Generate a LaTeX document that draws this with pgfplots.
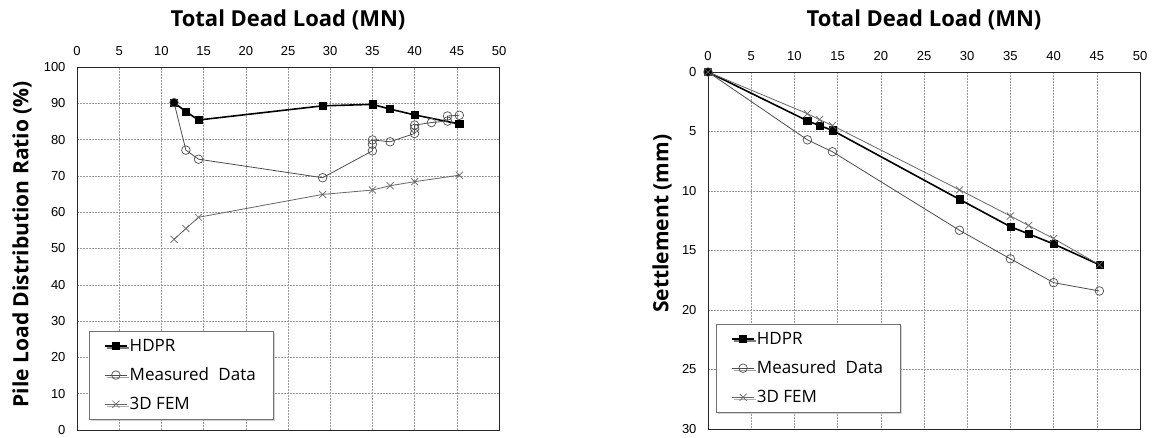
\documentclass[border=0pt]{standalone}
\usepackage{fontspec}
\setmainfont{Liberation Sans}
\newfontfamily\titlefont{Open Sans}
\usepackage{pgfplots}
\pgfplotsset{compat=1.18}
\usetikzlibrary{shadows}

\pgfplotsset{
  loadchart/.style={
    scale only axis,
    xmin=0, xmax=50, xtick={0,5,...,50},
    xticklabel pos=top,
    major tick length=0pt,
    grid=major,
    major grid style={black!40, dash pattern=on 2pt off 1pt, line width=0.6pt},
    axis line style={black!85, line width=0.9pt},
    tick label style={font=\fontsize{13}{15}\selectfont},
    /pgf/number format/assume math mode=true,
    xticklabel style={yshift=8pt},
    yticklabel style={xshift=-8pt},
    title style={font=\titlefont\bfseries\fontsize{22}{26}\selectfont, at={(0.5,1)}, anchor=center},
    ylabel style={font=\titlefont\bfseries\fontsize{21}{25}\selectfont},
    legend cell align=left,
    legend style={draw=black!55, line width=0.6pt, fill=white,
      font=\titlefont\fontsize{17}{20}\selectfont,
      drop shadow={shadow xshift=2pt, shadow yshift=-2pt, fill=black!35},
      row sep=11pt, inner xsep=15pt, inner ysep=6pt, anchor=north west},
    legend image code/.code={
      \draw[mark repeat=2, mark phase=2, #1] plot coordinates {(0pt,0pt) (11pt,0pt) (22pt,0pt)};
    },
  },
  hdpr/.style={black, line width=1.6pt, mark=square*, mark size=3.6pt, mark options={solid, line width=0.6pt}},
  meas/.style={black!70, line width=0.8pt, mark=o, mark size=4.3pt, mark options={solid, line width=0.7pt}},
  fem/.style={black!60, line width=0.8pt, mark=x, mark size=5pt, mark options={solid, line width=0.7pt}},
}

\begin{document}
\begin{tikzpicture}
\path[use as bounding box] (0pt,0pt) rectangle (1155pt,437pt);

% left: load distribution ratio
\begin{axis}[
  loadchart,
  at={(77pt,7pt)}, anchor=south west,
  width=422pt, height=363pt,
  ymin=0, ymax=100, ytick={0,10,...,100},
  title={Total Dead Load (MN)},
  title style={yshift=41pt},
  ylabel={Pile Load Distribution Ratio (\%)},
  ylabel style={at={(rel axis cs:-0.130,0.512)}, anchor=center},
  legend style={at={(0.028,0.273)}},
]
\addplot[hdpr] coordinates {
  (11.5,90.2) (12.9,87.7) (14.4,85.4) (29.1,89.3) (35.0,89.7)
  (37.1,88.4) (40.0,86.8) (45.3,84.3)
};
\addlegendentry{HDPR}
\addplot[meas] coordinates {
  (11.5,90.2) (12.9,77.1) (14.4,74.6) (29.1,69.5) (35.0,76.9)
  (35.0,78.7) (35.0,79.9) (37.1,79.4) (40.0,81.7) (40.0,83.1)
  (40.0,84.0) (42.0,84.7) (43.9,85.1) (43.9,86.5) (45.3,86.7)
};
\addlegendentry{Measured\hspace{0.55em}Data}
\addplot[fem] coordinates {
  (11.5,52.5) (12.9,55.5) (14.4,58.6) (29.1,64.9) (35.0,66.1)
  (37.1,67.3) (40.0,68.4) (45.3,70.2)
};
\addlegendentry{3D FEM}
\end{axis}

% right: settlement
\begin{axis}[
  loadchart,
  at={(708pt,8pt)}, anchor=south west,
  width=432pt, height=357pt,
  ymin=0, ymax=30, ytick={0,5,...,30},
  y dir=reverse,
  title={Total Dead Load (MN)},
  title style={yshift=46pt},
  ylabel={Settlement (mm)},
  ylabel style={at={(rel axis cs:-0.1065,0.575)}, anchor=center},
  legend style={at={(0.0185,0.294)}},
]
\addplot[hdpr] coordinates {
  (0,0) (11.5,4.1) (12.9,4.5) (14.4,4.9) (29.1,10.7) (35.0,13.0)
  (37.1,13.6) (40.0,14.45) (45.3,16.2)
};
\addlegendentry{HDPR}
\addplot[meas] coordinates {
  (0,0) (11.5,5.7) (14.4,6.7) (29.1,13.3) (35.0,15.7) (40.0,17.7) (45.3,18.4)
};
\addlegendentry{Measured\hspace{0.55em}Data}
\addplot[fem] coordinates {
  (0,0) (11.5,3.5) (12.9,4.0) (14.4,4.5) (29.1,9.9) (35.0,12.1)
  (37.1,12.9) (40.0,14.0) (45.3,16.2)
};
\addlegendentry{3D FEM}
\end{axis}
\end{tikzpicture}
\end{document}
